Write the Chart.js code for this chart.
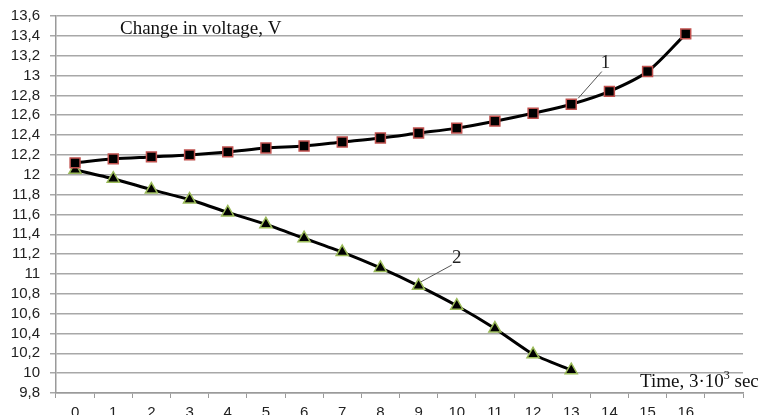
<!DOCTYPE html>
<html>
<head>
<meta charset="utf-8">
<script src="https://cdn.jsdelivr.net/npm/chart.js@4.4.0/dist/chart.umd.min.js"></script>
<style>
  html, body { margin: 0; padding: 0; background: #fff; }
  #wrap { width: 760px; height: 415px; }
</style>
</head>
<body>
<div id="wrap"><canvas id="grafico" width="760" height="415"></canvas></div>
<script>
const timeLabels = ['0','1','2','3','4','5','6','7','8','9','10','11','12','13','14','15','16',''];
const voltage1 = [12.12, 12.16, 12.18, 12.2, 12.23, 12.27, 12.29, 12.33, 12.37, 12.42, 12.47, 12.54, 12.62, 12.71, 12.84, 13.04, 13.42];
const voltage2 = [12.05, 11.96, 11.85, 11.75, 11.62, 11.5, 11.36, 11.22, 11.06, 10.88, 10.68, 10.45, 10.19, 10.03];

// callouts: label, label position, leader line start and end (category index, volts)
const callouts = [
  { text: '1', at: [13.9, 13.13], from: [13.18, 12.77], to: [13.8, 13.04] },
  { text: '2', at: [10.0, 11.16], from: [9.06, 10.92], to: [9.87, 11.09] }
];

const textos = {
  id: 'textos',
  afterDraw(chart) {
    const c = chart.ctx;
    const x = chart.scales.x, y = chart.scales.y;
    const area = chart.chartArea;
    c.save();
    c.fillStyle = '#111';
    c.font = '19px "Liberation Serif", serif';
    c.textBaseline = 'alphabetic';
    c.fillText('Change in voltage, V', area.left + 64, area.top + 18);

    // x axis title with superscript
    let tx = area.right - 103, ty = area.bottom - 6;
    const t1 = 'Time, 3·10';
    c.fillText(t1, tx, ty);
    tx += c.measureText(t1).width;
    c.font = '12px "Liberation Serif", serif';
    c.fillText('3', tx, ty - 8);
    tx += c.measureText('3').width;
    c.font = '19px "Liberation Serif", serif';
    c.fillText(' sec', tx, ty);

    callouts.forEach(k => {
      c.strokeStyle = '#555';
      c.lineWidth = 1;
      c.beginPath();
      c.moveTo(x.getPixelForValue(k.from[0]), y.getPixelForValue(k.from[1]));
      c.lineTo(x.getPixelForValue(k.to[0]), y.getPixelForValue(k.to[1]));
      c.stroke();
      c.font = '19px "Liberation Serif", serif';
      c.textAlign = 'center';
      c.textBaseline = 'middle';
      c.fillStyle = '#222';
      c.fillText(k.text, x.getPixelForValue(k.at[0]), y.getPixelForValue(k.at[1]));
    });
    c.restore();
  }
};

new Chart(document.getElementById('grafico'), {
  type: 'line',
  data: {
    labels: timeLabels,
    datasets: [{
      data: voltage1,
      borderColor: '#000',
      borderWidth: 3,
      pointStyle: 'rect',
      pointRadius: 7,
      pointBackgroundColor: '#000',
      pointBorderColor: '#c0504d',
      pointBorderWidth: 1.5,
      tension: 0.3
    }, {
      data: voltage2,
      borderColor: '#000',
      borderWidth: 3,
      pointStyle: 'triangle',
      pointRadius: 7,
      pointBackgroundColor: '#000',
      pointBorderColor: '#9bbb59',
      pointBorderWidth: 1.5,
      tension: 0.2
    }]
  },
  options: {
    responsive: false,
    animation: false,
    layout: { padding: { top: 16, right: 17, left: 0, bottom: 0 } },
    plugins: { legend: { display: false }, tooltip: { enabled: false } },
    scales: {
      x: {
        offset: true,
        grid: { offset: true, drawOnChartArea: false, drawTicks: true, tickLength: 5, color: '#9a9a9a', lineWidth: 1 },
        border: { color: '#9a9a9a', width: 1.5 },
        ticks: { color: '#222', font: { family: '"Liberation Sans", sans-serif', size: 15 }, padding: 6, maxRotation: 0, autoSkip: false },
        afterFit(s) { s.height = 22; }
      },
      y: {
        min: 9.8,
        max: 13.6,
        grid: { color: '#a8a8a8', lineWidth: 1.5, tickLength: 6 },
        border: { color: '#9a9a9a', width: 1.5 },
        ticks: {
          stepSize: 0.2,
          autoSkip: false,
          color: '#222',
          padding: 10,
          font: { family: '"Liberation Sans", sans-serif', size: 15 },
          callback: v => String(Number(v.toFixed(1))).replace('.', ',')
        },
        afterFit(s) { s.width = 56; s.paddingTop = 0; s.paddingBottom = 0; }
      }
    }
  },
  plugins: [textos]
});
</script>
</body>
</html>
